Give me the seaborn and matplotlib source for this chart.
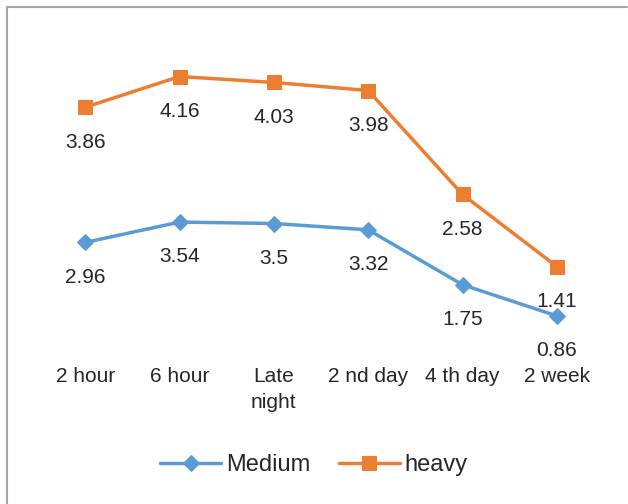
import pandas as pd
import matplotlib.pyplot as plt
from matplotlib.lines import Line2D
import seaborn as sns

# data
stages = ['2 hour', '6 hour', 'Late\nnight', '2 nd day', '4 th day', '2 week']
medium = [2.96, 3.54, 3.5, 3.32, 1.75, 0.86]
heavy = [3.86, 4.16, 4.03, 3.98, 2.58, 1.41]

sns.set_style('white')
plt.rcParams['font.family'] = ['Liberation Sans', 'DejaVu Sans']

# stacked line chart (Excel style): heavy is drawn on top of medium
df = pd.DataFrame({
    'x': list(range(len(stages))) * 2,
    'y': medium + [m + h for m, h in zip(medium, heavy)],
    'label': medium + heavy,
    'series': ['Medium'] * len(stages) + ['heavy'] * len(stages),
})

fig = plt.figure(figsize=(6.28, 5.04), dpi=100)
ax = fig.add_axes([38 / 628, 158 / 504, 566 / 628, 315 / 504])

colors = {'Medium': '#5B9BD5', 'heavy': '#ED7D31'}
markers = {'Medium': 'D', 'heavy': 's'}
sizes = {'Medium': 8, 'heavy': 10}

for name in ['Medium', 'heavy']:
    sub = df[df['series'] == name]
    sns.lineplot(data=sub, x='x', y='y', ax=ax, color=colors[name],
                 marker=markers[name], markersize=sizes[name],
                 markeredgecolor=colors[name], linewidth=2.5, label=name)
    for _, r in sub.iterrows():
        ax.annotate(f"{r['label']:g}", (r['x'], r['y']), xytext=(0, -25),
                    textcoords='offset points', ha='center', va='center',
                    fontsize=15)

ax.set_xlim(-0.5, len(stages) - 0.5)
ax.set_ylim(0, 9)
ax.set_xticks(range(len(stages)))
ax.set_xticklabels(stages, fontsize=15, va='top', ha='center', linespacing=1.5)
ax.tick_params(axis='x', length=0, pad=15)
ax.set_yticks([])
ax.set_xlabel('')
ax.set_ylabel('')
for s in ax.spines.values():
    s.set_visible(False)

ax.legend_.remove()
handles, labels = ax.get_legend_handles_labels()
fig.legend(handles, labels, loc='center', bbox_to_anchor=(0.5, 39 / 504),
           ncol=2, frameon=False, fontsize=17, handlelength=2.6,
           columnspacing=1.2, handletextpad=0.2)

# chart area border (left and top edges visible)
fig.add_artist(Line2D([7 / 628, 7 / 628], [0, 1 - 7 / 504], color='#A6A6A6',
                      linewidth=1.5, transform=fig.transFigure))
fig.add_artist(Line2D([7 / 628, 627 / 628], [1 - 7 / 504, 1 - 7 / 504],
                      color='#A6A6A6', linewidth=1.5, transform=fig.transFigure))

fig.savefig('out.png', dpi=100)
